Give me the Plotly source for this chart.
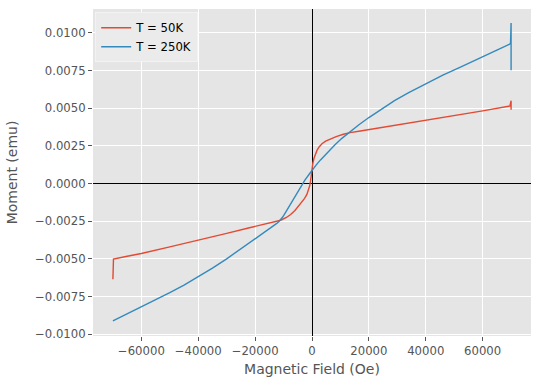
import plotly.graph_objects as go

# T = 50K series (field in Oe, moment in emu)
field_50k = [-70000, -69800, -65000, -60000, -50000, -40000, -30000, -22000, -16000,
             -13000, -11000, -9000, -7500, -6000, -4800, -3600, -2600, -1800, -1200,
             -800, -500, -250, 0, 300, 700, 1200, 1750, 2500, 3500, 4800, 6400, 8500,
             11000, 13400, 17000, 20000, 30000, 40000, 50000, 60000, 69600,
             70000, 70000, 70000]
moment_50k = [-0.00635, -0.00500, -0.00482, -0.00464, -0.00420, -0.00377, -0.00330,
              -0.00293, -0.00265, -0.00253, -0.00243, -0.00225, -0.00205, -0.00178,
              -0.00152, -0.00125, -0.00098, -0.00072, -0.00044, -0.00015, 0.00020,
              0.00060, 0.00098, 0.00135, 0.00168, 0.00196, 0.00220, 0.00243, 0.00264,
              0.00282, 0.00297, 0.00312, 0.00327, 0.00338, 0.00349, 0.00358, 0.00389,
              0.00420, 0.00451, 0.00482, 0.00515, 0.00550, 0.00490, 0.00515]

# T = 250K series
field_250k = [-70000, -65000, -60000, -55000, -50000, -45000, -40000, -35000, -30000,
              -25000, -20000, -17000, -14000, -12500, -11800, -11100, -10300, -9500,
              -8000, -6500, -5000, -4000, -2500, -1000, 0, 1500, 3000, 4500, 6000, 8000,
              10500, 13500, 16500, 20000, 24000, 29000, 34000, 40000, 46000, 52000,
              56000, 60000, 65000, 69800, 70000, 70000, 70000]
moment_250k = [-0.00910, -0.00864, -0.00818, -0.00772, -0.00724, -0.00673, -0.00619,
               -0.00561, -0.00499, -0.00434, -0.00368, -0.00328, -0.00287, -0.00266,
               -0.00255, -0.00241, -0.00222, -0.00198, -0.00150, -0.00101, -0.00052,
               -0.00020, 0.00023, 0.00062, 0.00088, 0.00124, 0.00157, 0.00188, 0.00218,
               0.00256, 0.00300, 0.00346, 0.00390, 0.00438, 0.00490, 0.00550, 0.00604,
               0.00664, 0.00719, 0.00771, 0.00805, 0.00840, 0.00885, 0.00928,
               0.01065, 0.00751, 0.00930]

x_ticks = [-60000, -40000, -20000, 0, 20000, 40000, 60000]
y_ticks = [-0.0100, -0.0075, -0.0050, -0.0025, 0.0000, 0.0025, 0.0050, 0.0075, 0.0100]

FONT = "DejaVu Sans"

fig = go.Figure()
fig.add_trace(go.Scatter(x=field_50k, y=moment_50k, mode="lines", name="T = 50K",
                         line=dict(color="#E24A33", width=1.4)))
fig.add_trace(go.Scatter(x=field_250k, y=moment_250k, mode="lines", name="T = 250K",
                         line=dict(color="#348ABD", width=1.4)))

axis_common = dict(
    showgrid=True, gridcolor="white", gridwidth=1,
    zeroline=True, zerolinecolor="black", zerolinewidth=1.2,
    ticks="outside", ticklen=4, tickcolor="#555555", tickwidth=1,
    tickfont=dict(family=FONT, size=11.7, color="#555555"),
    showline=False, automargin=False,
)

fig.update_layout(
    width=540, height=387,
    margin=dict(l=93, r=9, t=9, b=51),
    paper_bgcolor="white", plot_bgcolor="#E5E5E5",
    font=dict(family=FONT, color="#555555"),
    xaxis=dict(range=[-77000, 77000], tickvals=x_ticks, tickformat="d",
               title=dict(text="Magnetic Field (Oe)", font=dict(family=FONT, size=14, color="#555555"),
                          standoff=7),
               **axis_common),
    yaxis=dict(range=[-0.01011, 0.01158], tickvals=y_ticks, tickformat=".4f",
               title=dict(text="Moment (emu)", font=dict(family=FONT, size=14, color="#555555"),
                          standoff=14),
               **axis_common),
    legend=dict(x=0.005, y=0.99, xanchor="left", yanchor="top",
                bgcolor="#EBEBEB", bordercolor="#F2F2F2", borderwidth=1,
                font=dict(family=FONT, size=11.7, color="black"),
                tracegroupgap=0),
    showlegend=True,
)

fig.write_html("out.html", config={"displayModeBar": False},
               post_script="document.body.style.margin='0';")
